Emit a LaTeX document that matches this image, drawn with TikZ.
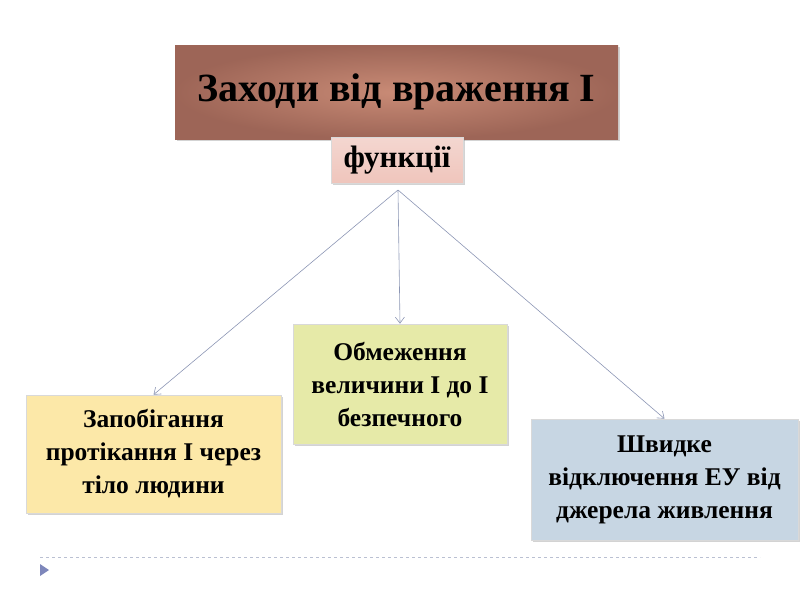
\documentclass[tikz,border=0pt]{standalone}
\usepackage{fontspec}
\setmainfont{Liberation Serif}
\usetikzlibrary{shadows,arrows.meta}
\definecolor{ttl}{HTML}{B97766}
\definecolor{ttlc}{HTML}{C98B76}
\definecolor{fn}{HTML}{EFC5BC}
\definecolor{yel}{HTML}{FCE8A8}
\definecolor{grn}{HTML}{E6EAA8}
\definecolor{blu}{HTML}{C7D6E3}
\definecolor{ln}{HTML}{8C96B4}
\tikzset{
 box/.style={draw=white!85!black,line width=0.6pt,align=center,inner sep=2pt,font=\bfseries\fontsize{25.5}{33}\selectfont,drop shadow={shadow xshift=2pt,shadow yshift=-2pt,opacity=0.35}},
 conn/.style={draw=ln,line width=0.6pt,-{Straight Barb[length=6pt,width=9pt]}}
}
\begin{document}
\begin{tikzpicture}[x=1pt,y=-1pt]
\useasboundingbox (0,0) rectangle (800,600);
\node[box,minimum width=443,minimum height=94,inner color=ttlc,outer color=ttl!85!black,draw=none,font=\bfseries\fontsize{40}{46}\selectfont] (t) at (396.5,92) {Заходи від враження І};
\node[box,minimum width=132,minimum height=46,top color=fn!70!white,bottom color=fn,font=\bfseries\fontsize{31}{36}\selectfont] (f) at (397,160) {функції};
\node[box,fill=yel,minimum width=255,minimum height=118] (a) at (153.5,454) {Запобігання\\протікання І через\\тіло людини};
\node[box,fill=grn,minimum width=214,minimum height=120] (b) at (400,384) {Обмеження\\величини І до І\\безпечного};
\node[box,fill=blu,minimum width=267,minimum height=121] (c) at (664.5,479.5) {Швидке\\відключення ЕУ від\\джерела живлення};
\coordinate (o) at (398,190);
\draw[conn] (o) -- (a.north);
\draw[conn] (o) -- (b.north);
\draw[conn] (o) -- (c.north);
\draw[draw=ln!60!white,dashed,line width=0.6pt] (40,557) -- (760,557);
\fill[ln!90!blue] (40,564) -- (49,570) -- (40,576) -- cycle;
\end{tikzpicture}
\end{document}
